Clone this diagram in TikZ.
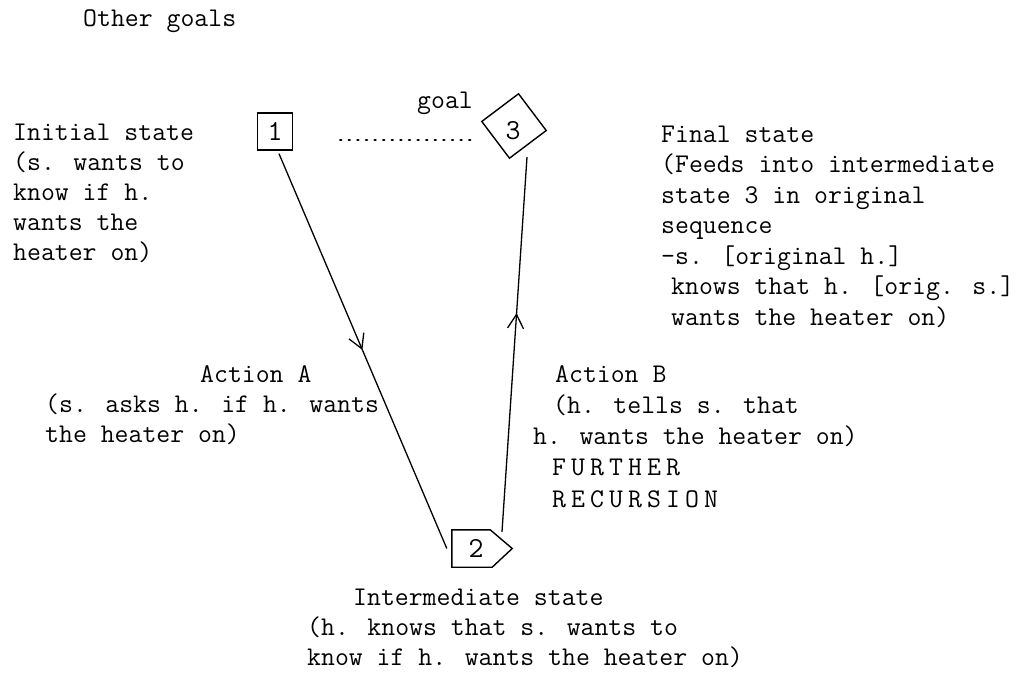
\documentclass[tikz,border=0pt]{standalone}
\usepackage{fontspec}
\usetikzlibrary{arrows.meta,decorations.markings,calc}
\newcommand\lspc[1]{\makebox[19pt][l]{#1}}
\newcommand\lblfont[1]{\ttfamily\addfontfeature{FakeBold=0.3}\fontsize{27pt}{#1}\selectfont}
\begin{document}
\begin{tikzpicture}[x=1pt,y=-1pt,
  lbl/.style={font=\lblfont{30pt}, inner sep=0pt},
  digit/.style={font=\ttfamily\addfontfeature{FakeBold=0.3}\fontsize{29pt}{30pt}\selectfont, inner sep=0pt},
  box/.style={draw, line width=1.4pt},
  outline/.style={line width=1.4pt, line join=miter},
  conn/.style={line width=1.3pt},
  dots/.style={line width=2.6pt, dash pattern=on 1pt off 7.6pt, line cap=round},
  midarrow/.style={postaction={decorate}, decoration={markings, mark=at position #1 with {\draw[line width=1.3pt] (-14pt,8pt) -- (0pt,0pt) -- (-14pt,-8pt);}}}
]
\useasboundingbox (0,0) rectangle (1032,677);

% state nodes
\node[box, digit, minimum width=35pt, minimum height=37pt] (n1) at (275,131.5) {1};
\node[box, rotate=37, minimum size=46pt, inner sep=0pt] (n3) at (514,126) {};
\node[digit] (n3t) at (513,131) {3};
\node[minimum width=60pt, minimum height=37pt, inner sep=0pt] (n2) at (482,548.5) {};
\draw[outline] (n2.north west) -- ([xshift=-22pt]n2.north east) -- (n2.east) -- ([xshift=-20pt]n2.south east) -- (n2.south west) -- cycle;
\node[digit] (n2t) at (476,548) {2};

% connectors
\draw[conn, midarrow=0.494] ($(n1.south)+(4,3)$) -- ($(n2.west)+(-5,0)$);
\draw[conn, midarrow=0.58] ($(n2.north)+(20,2)$) -- ($(n3.center)+(13,31)$);
\draw[dots] ($(n1.east)+(47,8.5)$) -- ($(n3.center)+(-41,14)$);

% labels
\node[lbl, anchor=base west] (other) at (83,27) {Other goals};
\node[lbl, anchor=base west] (goal) at (417,108) {goal};

\node[lbl, align=left, anchor=north west] (init) at (13,119)
  {\strut Initial state\\(s. wants to\\know if h.\\wants the\\heater on)};

\node[lbl, font=\lblfont{30.5pt}, align=left, anchor=north west] (final) at (661,120.6)
  {\strut Final state\\(Feeds into intermediate\\state 3 in original\\sequence\\–s. [original h.]\\\hspace*{10pt}knows that h. [orig. s.]\\\hspace*{10pt}wants the heater on)};

\node[lbl, align=left, anchor=north west] (actA) at (45,361)
  {\strut\hspace*{155pt}Action A\\(s. asks h. if h. wants\\the heater on)};

\node[lbl, font=\lblfont{31.25pt}, align=left, anchor=north west] (actB) at (533,360.1)
  {\strut\hspace*{22pt}Action B\\\hspace*{20pt}(h. tells s. that\\h. wants the heater on)\\\hspace*{19pt}\lspc{F}\lspc{U}\lspc{R}\lspc{T}\lspc{H}\lspc{E}R\\\hspace*{19pt}\lspc{R}\lspc{E}\lspc{C}\lspc{U}\lspc{R}\lspc{S}\lspc{I}\lspc{O}N};

\node[lbl, align=left, anchor=north west] (inter) at (307,584)
  {\strut\hspace*{46pt}Intermediate state\\(h. knows that s. wants to\\know if h. wants the heater on)};
\end{tikzpicture}
\end{document}
